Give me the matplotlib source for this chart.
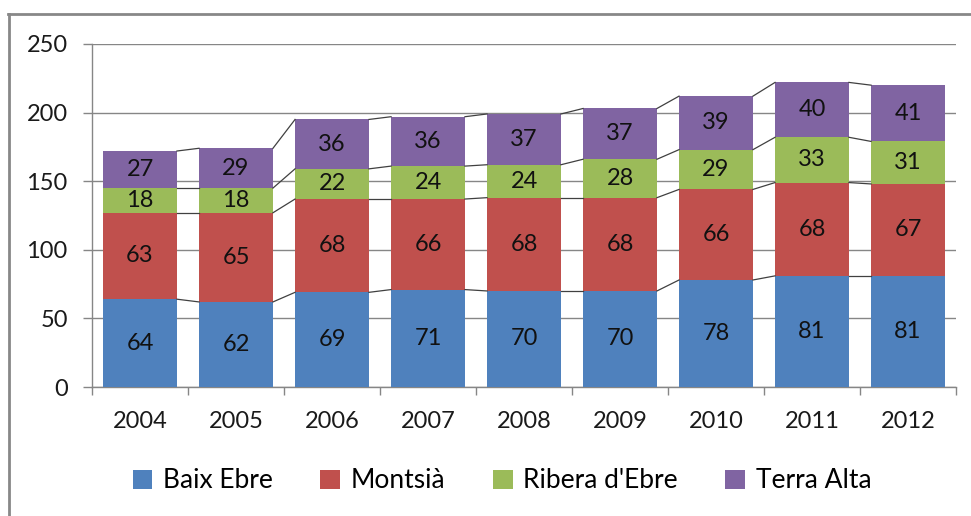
import matplotlib
matplotlib.use("Agg")
import matplotlib.pyplot as plt
from matplotlib.patches import Patch
from matplotlib.lines import Line2D
import numpy as np

years = ["2004", "2005", "2006", "2007", "2008", "2009", "2010", "2011", "2012"]
series_names = ["Baix Ebre", "Montsià", "Ribera d'Ebre", "Terra Alta"]
baix_ebre = [64, 62, 69, 71, 70, 70, 78, 81, 81]
montsia = [63, 65, 68, 66, 68, 68, 66, 68, 67]
ribera = [18, 18, 22, 24, 24, 28, 29, 33, 31]
terra_alta = [27, 29, 36, 36, 37, 37, 39, 40, 41]
colors = ["#4F81BD", "#C0504D", "#9BBB59", "#8064A2"]

plt.rcParams['font.family'] = ['Lato', 'DejaVu Sans']

fig = plt.figure(figsize=(9.71, 5.16), dpi=100)
ax = fig.add_axes([92/971, 1-387/516, (956-92)/971, (387-44)/516])

x = np.arange(len(years))
w = 0.77
data = [baix_ebre, montsia, ribera, terra_alta]
bottom = np.zeros(len(years))
for vals, col in zip(data, colors):
    vals = np.array(vals, dtype=float)
    ax.bar(x, vals, w, bottom=bottom, color=col, edgecolor='none', zorder=3)
    for xi, b, v in zip(x, bottom, vals):
        ax.text(xi, b + v/2, f"{int(v)}", ha='center', va='center', fontsize=17, color='#111111', zorder=5)
    bottom = bottom + vals
    # series lines
    for i in range(len(years)-1):
        ax.plot([x[i] + w/2, x[i+1] - w/2], [bottom[i], bottom[i+1]], color='#404040', lw=0.9, zorder=4)

ax.set_xlim(-0.5, len(years)-0.5)
ax.set_ylim(0, 250)
ax.set_yticks(np.arange(0, 251, 50))
ax.set_yticklabels([str(v) for v in range(0, 251, 50)], fontsize=17, color='#1a1a1a')
ax.set_xticks(x)
ax.set_xticklabels(years, fontsize=17, color='#1a1a1a')
ax.set_xticks(np.arange(-0.5, len(years), 1), minor=True)
ax.tick_params(axis='x', which='major', length=0, pad=17)
ax.tick_params(axis='x', which='minor', length=6, color='#868686', width=1)
ax.tick_params(axis='y', length=6.5, color='#868686', width=1, pad=11)
ax.yaxis.grid(True, color='#868686', lw=1, zorder=0)
ax.set_axisbelow(True)
for s in ['top', 'right']:
    ax.spines[s].set_visible(False)
for s in ['left', 'bottom']:
    ax.spines[s].set_color('#868686')
    ax.spines[s].set_linewidth(1)

handles = [Patch(facecolor=c, edgecolor='none') for c in colors]
fig.legend(handles, series_names, loc='center', bbox_to_anchor=(0.517, 1-481/516), ncol=4,
           frameon=False, fontsize=19, handlelength=0.75, handleheight=0.75, handletextpad=0.4,
           columnspacing=1.8)

# outer chart border (top and left visible)
fig.add_artist(Line2D([8/971, 1.0], [1-14/516, 1-14/516], color='#888888', lw=2, transform=fig.transFigure))
fig.add_artist(Line2D([9/971, 9/971], [0.0, 1-14/516], color='#888888', lw=2, transform=fig.transFigure))

fig.savefig("out.png", dpi=100)
